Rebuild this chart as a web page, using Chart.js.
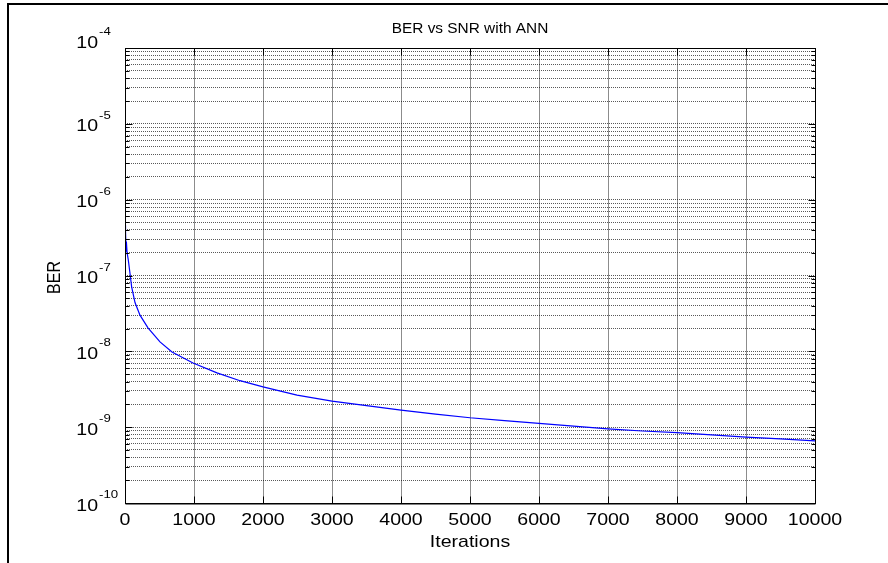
<!DOCTYPE html>
<html>
<head>
<meta charset="utf-8">
<title>BER vs SNR with ANN</title>
<script src="https://cdn.jsdelivr.net/npm/chart.js"></script>
<style>
    html, body { margin: 0; padding: 0; background: #fff; }
    canvas { display: block; }
</style>
</head>
<body>
<canvas id="myChart" width="888" height="563"></canvas>
<script>
// =============================================
//
// BER vs SNR with ANN - MATLAB style semilogy
//
// =============================================

// data
const iterations = [0, 5, 10, 15, 20, 30, 48, 72, 97, 145, 217, 333, 507, 681, 986,
    1333, 1667, 2000, 2493, 3000, 3500, 4000, 4500, 5000, 5500, 6000, 6500, 7000,
    7500, 8000, 8500, 9000, 9500, 10000];
const ber = [4.6e-7, 2.4e-7, 3.8e-7, 2.1e-7, 2.8e-7, 2.0e-7, 1.6e-7, 1.07e-7, 7.0e-8,
    4.4e-8, 3.0e-8, 2.04e-8, 1.33e-8, 9.8e-9, 7.0e-9, 5.2e-9, 4.1e-9, 3.4e-9, 2.65e-9,
    2.21e-9, 1.92e-9, 1.68e-9, 1.49e-9, 1.33e-9, 1.22e-9, 1.12e-9, 1.03e-9, 9.5e-10,
    8.9e-10, 8.45e-10, 7.9e-10, 7.4e-10, 7.0e-10, 6.6e-10];

// tick labels
const xTicks = [0, 1000, 2000, 3000, 4000, 5000, 6000, 7000, 8000, 9000, 10000];
const yExponents = [-10, -9, -8, -7, -6, -5, -4];
const yMinorSteps = [2, 3, 4, 5, 6, 7, 8, 9];

const titleText = "BER vs SNR with ANN";
const xTitle = "Iterations";
const yTitle = "BER";

const FONT = "'Liberation Sans', Arial, sans-serif";
const SX = 1.15; // picture text is a bit stretched horizontally

function yTickList() {
    const list = [];
    yExponents.forEach((e, i) => {
        list.push({ value: Math.pow(10, e), major: true, exp: e });
        if (i < yExponents.length - 1) {
            yMinorSteps.forEach((m) => list.push({ value: m * Math.pow(10, e), major: false }));
        }
    });
    return list;
}

function stretchText(ctx, text, x, y, align, sx) {
    ctx.save();
    ctx.translate(x, y);
    ctx.scale(sx, 1);
    ctx.textAlign = align;
    ctx.fillText(text, 0, 0);
    ctx.restore();
}

function hLine(ctx, x1, x2, y) {
    ctx.beginPath();
    ctx.moveTo(x1, y);
    ctx.lineTo(x2, y);
    ctx.stroke();
}

function vLine(ctx, x, y1, y2) {
    ctx.beginPath();
    ctx.moveTo(x, y1);
    ctx.lineTo(x, y2);
    ctx.stroke();
}

const paperPlugin = {
    id: "paper",
    beforeDraw(chart) {
        const ctx = chart.ctx;
        ctx.save();
        ctx.fillStyle = "#fff";
        ctx.fillRect(0, 0, chart.width, chart.height);
        // outer frame (left + top edges visible in the picture)
        ctx.fillStyle = "#000";
        ctx.fillRect(7, 3, 2, chart.height - 3);
        ctx.fillRect(7, 3, chart.width - 7, 2);
        ctx.restore();
    },
    afterDatasetsDraw(chart) {
        const { ctx, chartArea: a, scales: { x, y } } = chart;
        const L = Math.round(a.left) + 0.5, R = Math.round(a.right) + 0.5;
        const T = Math.round(a.top) + 0.5, B = Math.round(a.bottom) + 0.5;
        ctx.save();
        ctx.strokeStyle = "#000";
        ctx.lineWidth = 1;
        ctx.setLineDash([]);
        ctx.strokeRect(L, T, R - L, B - T);
        hLine(ctx, L, R, B + 0.5);

        // inward ticks
        y.ticks.forEach((t) => {
            const py = Math.round(y.getPixelForValue(t.value)) + 0.5;
            const len = t.major ? 7 : 4;
            hLine(ctx, L, L + len, py);
            hLine(ctx, R - len, R, py);
        });
        x.ticks.forEach((t) => {
            const px = Math.round(x.getPixelForValue(t.value)) + 0.5;
            vLine(ctx, px, B, B - 7);
            vLine(ctx, px, T, T + 7);
        });

        // tick labels
        ctx.fillStyle = "#000";
        ctx.textBaseline = "alphabetic";
        ctx.font = "17px " + FONT;
        x.ticks.forEach((t) => {
            const px = x.getPixelForValue(t.value);
            stretchText(ctx, String(t.value), px, 525, "center", SX);
        });
        y.ticks.filter((t) => t.major).forEach((t) => {
            let py = y.getPixelForValue(t.value);
            if (t.value === y.max) py -= 8;
            ctx.font = "17px " + FONT;
            stretchText(ctx, "10", 98, py + 7.5, "right", SX);
            ctx.font = "11.5px " + FONT;
            stretchText(ctx, String(t.exp), 99, py - 5, "left", SX);
        });

        // titles
        ctx.font = "14px " + FONT;
        stretchText(ctx, titleText, (a.left + a.right) / 2, 33, "center", 1.1);
        ctx.font = "17px " + FONT;
        stretchText(ctx, xTitle, (a.left + a.right) / 2, 547, "center", SX);
        ctx.save();
        ctx.translate(60, (a.top + a.bottom) / 2 + 2);
        ctx.rotate(-Math.PI / 2);
        ctx.font = "16px " + FONT;
        ctx.textAlign = "center";
        ctx.scale(1, 1.15);
        ctx.fillText(yTitle, 0, 0);
        ctx.restore();
        ctx.restore();
    },
};

const config = {
    type: "line",
    data: {
        datasets: [
            {
                label: "BER",
                data: iterations.map((it, i) => ({ x: it, y: ber[i] })),
                borderColor: "#0000ff",
                borderWidth: 1.2,
                pointRadius: 0,
                tension: 0,
                fill: false,
            },
        ],
    },
    options: {
        responsive: false,
        animation: false,
        devicePixelRatio: 1,
        layout: { padding: { left: 125, right: 73, top: 48, bottom: 60 } },
        plugins: {
            legend: { display: false },
            title: { display: false },
            tooltip: { enabled: false },
        },
        scales: {
            x: {
                type: "linear",
                min: 0,
                max: 10000,
                afterBuildTicks: (scale) => {
                    scale.ticks = xTicks.map((v) => ({ value: v }));
                },
                afterFit: (scale) => { scale.height = 0; },
                ticks: { display: false, autoSkip: false },
                grid: {
                    color: "rgba(0,0,0,0.45)",
                    lineWidth: 1,
                    drawTicks: false,
                },
                border: { display: false },
            },
            y: {
                type: "logarithmic",
                min: 1e-10,
                max: 1e-4,
                afterBuildTicks: (scale) => {
                    scale.ticks = yTickList();
                },
                afterFit: (scale) => { scale.width = 0; },
                ticks: { display: false, autoSkip: false },
                grid: {
                    color: "rgba(0,0,0,0.65)",
                    lineWidth: 1,
                    drawTicks: false,
                },
                border: { display: false, dash: [1, 1] },
            },
        },
    },
    plugins: [paperPlugin],
};

const myChart = new Chart(document.getElementById("myChart"), config);
</script>
</body>
</html>
